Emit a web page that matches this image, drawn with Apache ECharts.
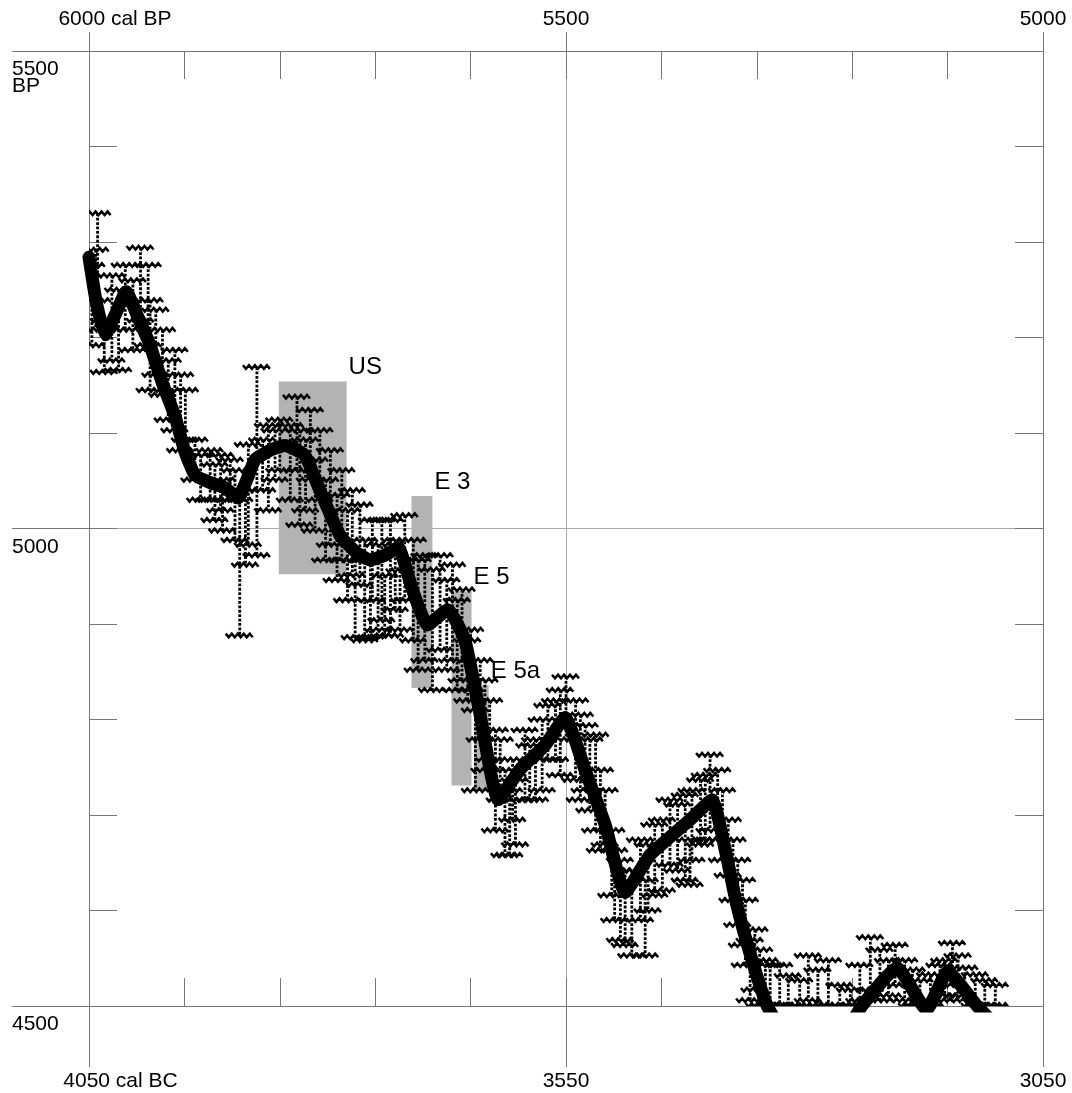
<!DOCTYPE html>
<html><head><meta charset="utf-8">
<script src="https://cdn.jsdelivr.net/npm/echarts@6/dist/echarts.min.js"></script>
<style>html,body{margin:0;padding:0;background:#fff}#c{width:1072px;height:1093px}</style>
</head><body><div id="c"></div>
<script>
// unit conversion: cal BP = cal BC + 1950
const BC_TO_BP = 1950;

// calibration curve (cal BC, radiocarbon BP)
const curveCalBC = [4050,4042,4033,4022,4011,3999,3986,3973,3960,3950,3939,3923,3908,3894,3885,3876,3860,3845,3824,3808,3787,3770,3755,3740,3726,3711,3695,3674,3656,3640,3621,3598,3572,3551,3530,3509,3488,3462,3420,3397,3383,3371,3355,3339,3320,3280,3255,3240,3203,3172,3150,3119,3100];
const curveBP    = [5284,5235,5203,5225,5248,5222,5192,5152,5118,5082,5056,5048,5043,5032,5050,5072,5082,5087,5077,5040,4993,4975,4967,4972,4980,4936,4899,4915,4883,4805,4716,4748,4773,4802,4747,4690,4619,4658,4695,4716,4663,4606,4548,4500,4470,4455,4475,4500,4540,4496,4536,4500,4480];

// individual measurements: x (cal BC), upper and lower end of error bar (BP)
const barCalBC  = [4041,4043,4026,4012,3996,3988,4034,3986,3973,3960,3949,3939,3923,3912,3902,3910,3892,3874,3883,3862,3850,3832,3818,3829,3808,3797,3785,3774,3766,3753,3743,3734,3719,3710,3698,3682,3669,3659,3650,3640,3630,3645,3624,3614,3603,3593,3582,3569,3556,3550,3540,3530,3519,3509,3502,3493,3481,3472,3457,3441,3425,3409,3399,3391,3380,3370,3362,3357,3347,3336,3317,3296,3275,3252,3231,3221,3205,3195,3179,3158,3145,3132,3111,3100,3771,3755,3740,3724,3609,3467,3420,
                   4047,4019,4004,3980,3967,3954,3933,3918,3897,3886,3868,3855,3839,3823,3813,3802,3790,3779,3761,3747,3729,3705,3690,3675,3664,3653,3635,3619,3606,3588,3575,3561,3535,3525,3514,3499,3488,3464,3449,3433,3418,3404,3386,3375,3365,3352,3341,3326,3305,3286,3263,3242,3212,3187,3168,3153,3139,3121];
const barHighBP = [5330,5292,5265,5276,5294,5276,5218,5239,5208,5187,5145,5093,5082,5077,5072,5051,5030,5169,5088,5108,5114,5138,5124,5103,5103,5082,5061,5040,5025,5009,5009,5009,5014,4988,4972,4972,4962,4936,4894,4862,4820,4810,4789,4747,4737,4789,4779,4815,4831,4845,4820,4794,4784,4726,4684,4653,4642,4674,4690,4716,4721,4737,4763,4747,4695,4653,4611,4569,4559,4543,4532,4553,4548,4517,4572,4559,4564,4548,4527,4543,4566,4540,4527,4522,4967,4967,4951,4956,4726,4632,4674,
                   5276,5250,5260,5229,5176,5161,5077,5067,5061,5040,5093,5103,5108,5093,5072,5051,5035,5019,4988,4983,4988,4967,4957,4946,4925,4883,4841,4779,4758,4773,4800,4820,4805,4779,4747,4663,4642,4669,4695,4711,4726,4742,4726,4674,4632,4580,4548,4543,4527,4538,4522,4543,4548,4538,4533,4548,4553,4533];
const barLowBP  = [5239,5208,5176,5208,5218,5192,5164,5145,5140,5103,5093,5051,5030,5019,5030,4998,4888,4972,4983,5019,5061,5061,5051,5004,5030,4983,4967,4951,4941,4925,4904,4888,4925,4883,4862,4873,4862,4841,4831,4779,4758,4726,4684,4658,4669,4716,4716,4758,4742,4779,4737,4726,4684,4669,4616,4569,4553,4590,4616,4648,4632,4669,4684,4674,4637,4585,4543,4506,4501,4501,4501,4506,4501,4501,4517,4506,4522,4506,4501,4506,4522,4506,4501,4501,4886,4886,4888,4894,4658,4553,4627,
                   5192,5166,5187,5161,5114,5082,5030,5009,4988,4962,5040,5051,5030,5019,4998,4967,4946,4925,4883,4894,4915,4852,4831,4852,4831,4820,4747,4716,4695,4716,4726,4758,4716,4705,4663,4590,4564,4600,4621,4642,4653,4674,4653,4611,4564,4517,4501,4501,4501,4501,4501,4506,4511,4501,4501,4511,4511,4501];

// shaded sample ranges
const zoneNames    = ['US','E 3','E 5','E 5a'];
const zoneStartBC  = [3851,3712,3670,3646];
const zoneEndBC    = [3780,3690,3649,3631];
const zoneTopBP    = [5154,5034,4934,4836];
const zoneBottomBP = [4952,4833,4731,4726];

// tick labels
const bottomTickValues = [4050,3550,3050];
const bottomTickLabels = ['4050 cal BC','3550','3050'];
const topTickValues = [6000,5500,5000];
const topTickLabels = ['6000 cal BP','5500','5000'];
const leftTickValues = [5500,5000,4500];
const leftTickLabels = ['5500\nBP','5000','4500'];

const FONT = 'Liberation Sans, Arial, Helvetica, sans-serif';
const frameColor = '#777';

const curveData = curveCalBC.map((x,i)=>[x+BC_TO_BP, curveBP[i]]);
const barData = barCalBC.map((x,i)=>[x+BC_TO_BP, barHighBP[i], barLowBP[i]]);
const zoneData = zoneNames.map((n,i)=>[
  {name:n, xAxis: zoneStartBC[i]+BC_TO_BP, yAxis: zoneTopBP[i]},
  {xAxis: zoneEndBC[i]+BC_TO_BP, yAxis: zoneBottomBP[i]}
]);

function bottomFmt(v){
  const i = bottomTickValues.indexOf(v - BC_TO_BP);
  if (i < 0) return '';
  const s = bottomTickLabels[i];
  return s.indexOf(' ') >= 0 ? '{first|' + s + '}' : s;
}
function topFmt(v){
  const i = topTickValues.indexOf(v);
  if (i < 0) return '';
  const s = topTickLabels[i];
  return s.indexOf(' ') >= 0 ? '{first|' + s + '}' : s;
}
function leftFmt(v){
  const i = leftTickValues.indexOf(v);
  return i < 0 ? '' : leftTickLabels[i];
}

const xBase = {type:'value', min:5000, max:6000, inverse:true, gridIndex:0};
const yBase = {type:'value', min:4500, max:5500, gridIndex:0};

const option = {
  animation:false,
  backgroundColor:'#fff',
  grid:{left:89, right:29, top:51, bottom:87, containLabel:false},
  xAxis:[
    Object.assign({}, xBase, {position:'bottom', interval:100,
      axisLine:{show:true, lineStyle:{color:frameColor, width:1}},
      axisTick:{show:true, inside:true, length:28, lineStyle:{color:frameColor}},
      axisLabel:{show:false}, splitLine:{show:false}}),
    Object.assign({}, xBase, {position:'bottom', interval:500,
      axisLine:{show:false},
      axisTick:{show:true, inside:false, length:61, lineStyle:{color:frameColor}},
      axisLabel:{show:true, margin:65, formatter:bottomFmt, color:'#000', fontFamily:FONT, fontSize:21,
        rich:{first:{fontFamily:FONT, fontSize:21, color:'#000', padding:[0,0,0,63]}}},
      splitLine:{show:true, lineStyle:{color:'#aaa', width:1}}}),
    Object.assign({}, xBase, {position:'top', interval:100,
      axisLine:{show:true, lineStyle:{color:frameColor, width:1}},
      axisTick:{show:true, inside:true, length:28, lineStyle:{color:frameColor}},
      axisLabel:{show:false}, splitLine:{show:false}}),
    Object.assign({}, xBase, {position:'top', interval:500,
      axisLine:{show:false},
      axisTick:{show:true, inside:false, length:19, lineStyle:{color:frameColor}},
      axisLabel:{show:true, margin:21, formatter:topFmt, color:'#000', fontFamily:FONT, fontSize:21,
        rich:{first:{fontFamily:FONT, fontSize:21, color:'#000', padding:[0,0,0,52]}}},
      splitLine:{show:false}})
  ],
  yAxis:[
    Object.assign({}, yBase, {position:'left', interval:100,
      axisLine:{show:true, lineStyle:{color:frameColor, width:1}},
      axisTick:{show:true, inside:true, length:28, lineStyle:{color:frameColor}},
      axisLabel:{show:false}, splitLine:{show:false}}),
    Object.assign({}, yBase, {position:'left', interval:500,
      axisLine:{show:false},
      axisTick:{show:true, inside:false, length:77, lineStyle:{color:frameColor}},
      axisLabel:{show:true, margin:77, align:'left', verticalAlign:'top', formatter:leftFmt,
        color:'#000', fontFamily:FONT, fontSize:21, lineHeight:17, padding:[10,0,0,0]},
      splitLine:{show:true, lineStyle:{color:'#aaa', width:1}}}),
    Object.assign({}, yBase, {position:'right', interval:100,
      axisLine:{show:true, lineStyle:{color:frameColor, width:1}},
      axisTick:{show:true, inside:true, length:28, lineStyle:{color:frameColor}},
      axisLabel:{show:false}, splitLine:{show:false}})
  ],
  series:[
    {
      type:'line', xAxisIndex:0, yAxisIndex:0, data:[], z:1, silent:true,
      markArea:{
        silent:true,
        itemStyle:{color:'#b3b3b3', opacity:1},
        label:{show:true, position:['100%',0], align:'left', verticalAlign:'bottom',
          offset:[2,-2], color:'#000', fontFamily:FONT, fontSize:24},
        data: zoneData
      }
    },
    {
      type:'custom', xAxisIndex:0, yAxisIndex:0, z:3, clip:true, silent:true,
      data: barData,
      encode:{x:0, y:[1,2]},
      renderItem:function(params, api){
        const x = api.value(0), hi = api.value(1), lo = api.value(2);
        const pt = api.coord([x, hi]);
        const pb = api.coord([x, lo]);
        const cw = 14;
        const children = [{
          type:'line',
          shape:{x1:pt[0], y1:pt[1], x2:pb[0], y2:pb[1]},
          style:{stroke:'#000', lineWidth:2.8, lineDash:[2.8,1.6], fill:null}
        }];
        [pt[1], pb[1]].forEach(function(y){
          const pts = [];
          let k = 0;
          for (let dx = -cw; dx <= cw; dx += 3, k++) {
            pts.push([pt[0] + dx, y + (k % 2 ? 1.8 : -1.8)]);
          }
          children.push({type:'polyline', shape:{points:pts},
            style:{stroke:'#000', lineWidth:2.5, fill:null}});
        });
        return {type:'group', children:children};
      }
    },
    {
      type:'line', xAxisIndex:0, yAxisIndex:0, z:4, silent:true,
      data: curveData, symbol:'none', smooth:0.15, clip:true,
      lineStyle:{color:'#000', width:13, cap:'round', join:'round'}
    }
  ]
};

const chart = echarts.init(document.getElementById('c'), null, {renderer:'canvas'});
chart.setOption(option);
</script>
</body></html>
